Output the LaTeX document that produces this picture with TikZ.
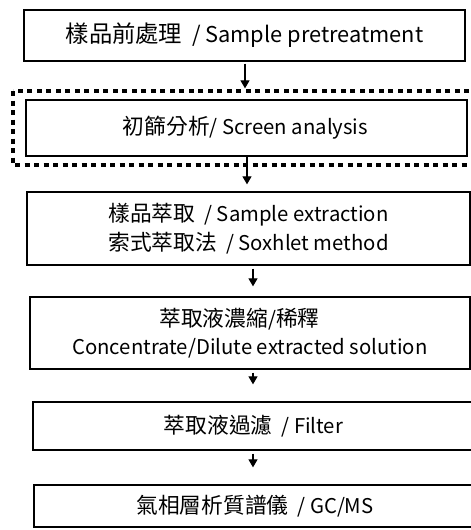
\documentclass[tikz,border=0pt]{standalone}
\usepackage{fontspec}
\setmainfont{Noto Sans CJK TC}
\newfontfamily\cjk[Scale=1.07]{Noto Sans CJK TC}
\usetikzlibrary{arrows.meta}
\begin{document}
\begin{tikzpicture}[x=1pt,y=-1pt,
  box/.style={draw=black,line width=1.3pt,inner sep=0pt,align=center,
    font=\fontsize{20.3}{28.5}\selectfont},
  bigbox/.style={box,font=\fontsize{21.8}{28.5}\selectfont},
  arr/.style={line width=1.2pt,-{Triangle[width=9pt,length=8pt]}},
  dashbox/.style={draw=black,line width=3.5pt,dash pattern=on 5pt off 4.5pt}]
\useasboundingbox (0,0) rectangle (471,530);
\clip (0,0) rectangle (471,530);
\fill[white] (0,0) rectangle (471,530);
% boxes
\node[bigbox,minimum width=441pt,minimum height=51pt] (b1) at (244.5,35.5)
  {{\cjk 樣品前處理}\ \ / Sample pretreatment};
\draw[dashbox] (13,91) rectangle (490,165);
\node[box,minimum width=441pt,minimum height=56pt] (b2) at (246.5,128)
  {\hspace*{-2pt}{\cjk 初篩分析}/ Screen analysis};
\node[box,minimum width=443pt,minimum height=73pt] (b3) at (248.5,228.5)
  {{\cjk 樣品萃取}\ \ / Sample extraction\\{\cjk 索式萃取法}\ \ / Soxhlet method};
\node[box,minimum width=440pt,minimum height=72pt] (b4) at (250,333)
  {\hspace*{-21pt}{\cjk 萃取液濃縮}/{\cjk 稀釋}\\Concentrate/Dilute extracted solution};
\node[box,minimum width=447pt,minimum height=48pt] (b5) at (256.5,426)
  {\hspace*{-6pt}{\cjk 萃取液過濾}\ \ / Filter};
\node[box,minimum width=446pt,minimum height=42pt] (b6) at (257,506)
  {\hspace*{-4pt}\raisebox{-3pt}{{\cjk 氣相層析質譜儀}\ \ / GC/MS}};
% arrow columns
\coordinate (c1) at (245,0);
\coordinate (c2) at (247,0);
\coordinate (c3) at (253,0);
\draw[arr,shorten <=2pt,shorten >=11pt] (b1.south -| c1) -- (b2.north -| c1);
\draw[arr,shorten >=7pt] (b2.south -| c2) -- (b3.north -| c2);
\draw[arr,shorten <=3pt,shorten >=10pt] (b3.south -| c3) -- (b4.north -| c3);
\draw[arr,shorten <=3pt,shorten >=17pt] (b4.south -| c3) -- (b5.north -| c3);
\draw[arr,shorten <=3pt,shorten >=17pt] (b5.south -| c3) -- (b6.north -| c3);
\end{tikzpicture}
\end{document}
